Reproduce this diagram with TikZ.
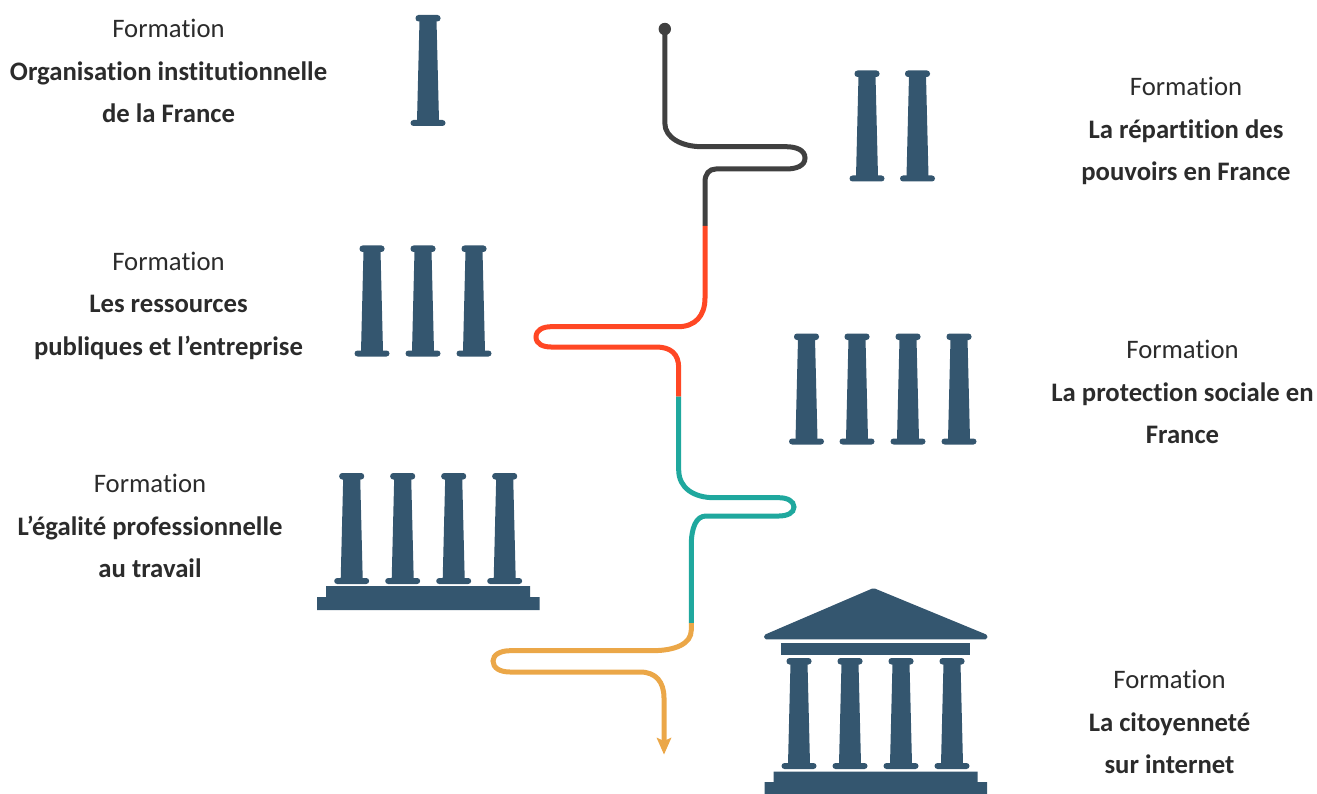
\documentclass[tikz,border=0pt]{standalone}
\usepackage{fontspec}
\setmainfont[RawFeature={-liga;-clig}]{Carlito}
\definecolor{slate}{HTML}{34566F}
\definecolor{ink}{HTML}{404040}
\definecolor{labelink}{HTML}{2B2B2B}
\definecolor{redline}{HTML}{FF4724}
\definecolor{tealline}{HTML}{1FA89E}
\definecolor{orangeline}{HTML}{EBA748}
\tikzset{
  shape fill/.style={fill=slate,draw=none},
  route/.style={line width=5pt,line cap=butt},
  label block/.style={align=center,text=labelink,font=\fontsize{26.7}{42.5}\selectfont,inner sep=0pt}
}
\newcommand{\pillar}[2]{%
  \fill[shape fill,rounded corners=3pt] (#1-12.5,#2) rectangle (#1+12.5,#2+6.5);
  \fill[shape fill] (#1-8.5,#2+5) -- (#1+8.5,#2+5) -- (#1+11,#2+106) -- (#1-11,#2+106) -- cycle;
  \fill[shape fill,rounded corners=3pt] (#1-17.5,#2+105) rectangle (#1+17.5,#2+111);
}
\begin{document}
\begin{tikzpicture}[x=1pt,y=-1pt]
\useasboundingbox (0,0) rectangle (1317,794);
% pillars
\pillar{428}{15}
\pillar{867}{70.5}\pillar{917.5}{70.5}
\pillar{372}{245.5}\pillar{423}{245.5}\pillar{474}{245.5}
\pillar{806.5}{333.5}\pillar{857}{333.5}\pillar{908}{333.5}\pillar{959}{333.5}
\pillar{351.7}{473}\pillar{402.7}{473}\pillar{453.7}{473}\pillar{504.7}{473}
\fill[shape fill] (326,586) -- (530,586) -- (530,597) -- (539.5,597) -- (539.5,610) -- (317,610) -- (317,597) -- (326,597) -- cycle;
% temple
\pillar{799}{658}\pillar{850}{658}\pillar{901}{658}\pillar{952}{658}
\fill[shape fill] (781,643) rectangle (970,655);
\fill[shape fill,rounded corners=1.5pt] (873.5,588) -- (987.5,635) -- (987,639.3) -- (764.5,639.3) -- (764,635) -- cycle;
\fill[shape fill] (773.7,771.5) -- (977.7,771.5) -- (977.7,782) -- (987,782) -- (987,794) -- (764.5,794) -- (764.5,782) -- (773.7,782) -- cycle;
% route coordinates
\coordinate (start) at (664.8,29);
\coordinate (darkred) at (705,226);
\coordinate (redteal) at (678.7,396.7);
\coordinate (tealorange) at (691.3,623);
\coordinate (finish) at (664,742);
\fill[ink] (start) circle (6.2);
\draw[route,ink] (start) -- (664.8,123) .. controls (664.8,138) and (682,146.7) .. (702,146.7) -- (786,146.7)
  .. controls (796,146.7) and (805,150) .. (805,158) .. controls (805,166) and (796,169) .. (786,169) -- (716,169)
  .. controls (709,169) and (705,174) .. (705,182) -- (darkred);
\draw[route,redline] (darkred) -- (705,298) .. controls (705,316) and (695,326.7) .. (678,326.7) -- (551,326.7)
  .. controls (543,326.7) and (536,330) .. (536,337) .. controls (536,344) and (543,347) .. (551,347) -- (656,347)
  .. controls (671,347) and (678.7,354) .. (678.7,368) -- (redteal);
\draw[route,tealline] (redteal) -- (678.7,470) .. controls (678.7,488) and (694,497.7) .. (714,497.7) -- (779,497.7)
  .. controls (787,497.7) and (794,501) .. (794,507) .. controls (794,513) and (787,516) .. (779,516) -- (706,516)
  .. controls (696,516) and (691.3,528) .. (691.3,545) -- (tealorange);
\draw[route,orangeline] (tealorange) -- (691.3,630) .. controls (691.3,644) and (675,650.7) .. (652,650.7) -- (510,650.7)
  .. controls (500,650.7) and (493,655) .. (493,661) .. controls (493,668) and (500,672) .. (510,672) -- (640,672)
  .. controls (656,672) and (664,682) .. (664,698) -- (finish);
\fill[orangeline] (656.5,737.5) -- (664,741) -- (671.5,737.5) -- (664,754.5) -- cycle;
% labels
\node[label block] (l1) at (168.5,71.2) {Formation\\\textbf{Organisation institutionnelle}\\\textbf{de la France}};
\node[label block] (l2) at (1186,131) {Formation\\\textbf{La répartition des}\\\textbf{pouvoirs en France}};
\node[label block] (l3) at (168.5,305.5) {Formation\\\textbf{Les ressources}\\\textbf{publiques et l’entreprise}};
\node[label block] (l4) at (1182.5,392.2) {Formation\\\textbf{La protection sociale en}\\\textbf{France}};
\node[label block] (l5) at (150,526.2) {Formation\\\textbf{L’égalité professionnelle}\\\textbf{au travail}};
\node[label block] (l6) at (1169.5,722) {Formation\\\textbf{La citoyenneté}\\\textbf{sur internet}};
\end{tikzpicture}
\end{document}
